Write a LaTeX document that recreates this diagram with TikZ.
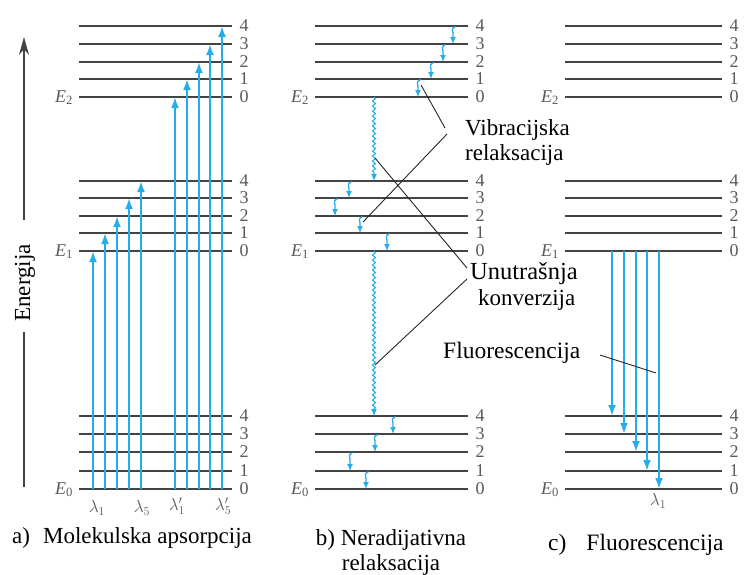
\documentclass[tikz,border=0pt]{standalone}
\usepackage{fontspec}
\setmainfont{Liberation Serif}
\usetikzlibrary{arrows.meta,decorations.pathmorphing}
\definecolor{lvl}{RGB}{68,68,68}
\definecolor{ablue}{RGB}{38,172,232}
\definecolor{lab}{RGB}{90,88,96}
\begin{document}
\begin{tikzpicture}[x=1pt,y=-1pt,
 level/.style={draw=lvl,line width=2pt},
 absarrow/.style={draw=ablue,line width=2.2pt,-{Latex[length=11pt,width=8pt]}},
 wavy/.style={draw=ablue,line width=1.1pt,decorate,decoration={snake,amplitude=1.5pt,segment length=5pt,post length=6pt},-{Latex[length=7pt,width=6pt]}},
 relax/.style={draw=ablue,line width=1.3pt,-{Latex[length=7pt,width=6pt]}},
 num/.style={font=\fontsize{18}{18}\selectfont,text=lab,inner sep=0pt},
 elab/.style={font=\fontsize{18}{18}\selectfont,text=lab,inner sep=0pt,anchor=base east},
 lam/.style={font=\fontsize{17}{17}\selectfont,text=lab,inner sep=0pt},
 txt/.style={font=\fontsize{23}{27}\selectfont,inner sep=0pt,anchor=base west},
 leader/.style={draw=black!85,line width=0.9pt},
 axisline/.style={draw=lvl,line width=1.3pt}]
\useasboundingbox (0,0) rectangle (744,574);
% energy levels
\foreach \xa/\xb in {79/232,315/468,565/722}{
  \foreach \y [count=\i from 0] in {97,79,62,44,26}
    {\draw[level] (\xa,\y) -- (\xb,\y); \node[num] at (\xb+12,\y) {\i};}
  \foreach \y [count=\i from 0] in {251,233,216,198,181}
    {\draw[level] (\xa,\y) -- (\xb,\y); \node[num] at (\xb+12,\y) {\i};}
  \foreach \y [count=\i from 0] in {489,471,452,434,416}
    {\draw[level] (\xa,\y) -- (\xb,\y); \node[num] at (\xb+12,\y) {\i};}
  \node[elab] at (\xa-6,102) {\textit{E}\textsubscript{2}};
  \node[elab] at (\xa-6,256) {\textit{E}\textsubscript{1}};
  \node[elab] at (\xa-6,494) {\textit{E}\textsubscript{0}};
}
% energy axis
\draw[axisline] (24,332) -- (24,487);
\draw[axisline,-{Stealth[length=18pt,width=10pt]}] (24,220) -- (24,37);
\node[font=\fontsize{23}{27}\selectfont,inner sep=0pt,rotate=90] (en) at (25,283) {Energija};
% a) absorption
\foreach \x/\y in {93/251,105/233,117/216,129/198,141/181,175/97,187/79,199/62,210/44,222/26}
  \draw[absarrow] (\x,489) -- (\x,\y);
\node[lam] (l1) at (97,508) {$\lambda_1$};
\node[lam] (l5) at (142,508) {$\lambda_5$};
\node[lam] (lp1) at (177,506) {$\lambda'_1$};
\node[lam] (lp5) at (223,506) {$\lambda'_5$};
% b) non-radiative
\draw[wavy] (374,97) -- (374,181);
\draw[wavy] (374,251) -- (374,416);
\foreach \x/\yu/\yl in {453/26/44,443/44/62,431/62/79,418/79/97,
  349/181/198,335/198/216,360/216/233,387/233/251,
  393/416/434,375/434/452,350/452/471,366/471/489}
  \draw[relax] (\x+2.5,\yu+0.5) .. controls (\x-2.5,\yu+3) and (\x,\yu+5) .. (\x,\yu+7) -- (\x,\yl);
% c) fluorescence
\foreach \x/\y in {612/416,624/434,636/452,647/471,659/489}
  \draw[absarrow] (\x,251) -- (\x,\y);
\node[lam] (lc1) at (658,501) {$\lambda_1$};
% labels
\node[txt] (vibA) at (465,135) {Vibracijska};
\node[txt] (vibB) at (465,160) {relaksacija};
\node[txt,font=\fontsize{24.5}{27}\selectfont] (unA) at (470,279) {Unutrašnja};
\node[txt] (unB) at (478,305) {konverzija};
\node[txt,font=\fontsize{23.5}{27}\selectfont] (fl) at (443,358) {Fluorescencija};
% leaders
\coordinate (v0) at (421,85); \coordinate (v1) at (445,128);
\coordinate (v2) at (447,134); \coordinate (v3) at (363,222);
\coordinate (u0) at (375,158); \coordinate (u1) at (467,268);
\coordinate (u2) at (467,279); \coordinate (u3) at (375,365);
\coordinate (f0) at (600,355); \coordinate (f1) at (656,373);
\draw[leader] (v0) -- (v1);
\draw[leader] (v2) -- (v3);
\draw[leader] (u0) -- (u1);
\draw[leader] (u2) -- (u3);
\draw[leader] (f0) -- (f1);
% captions
\node[txt] (capa) at (12,543) {a)\hspace{13pt}Molekulska apsorpcija};
\node[txt,anchor=base] (capb1) at (391,545) {b) Neradijativna};
\node[txt,anchor=base] (capb2) at (391,570) {relaksacija};
\node[txt,font=\fontsize{23.5}{27}\selectfont] (capc) at (548,550) {c)\hspace{20pt}Fluorescencija};
\end{tikzpicture}
\end{document}
